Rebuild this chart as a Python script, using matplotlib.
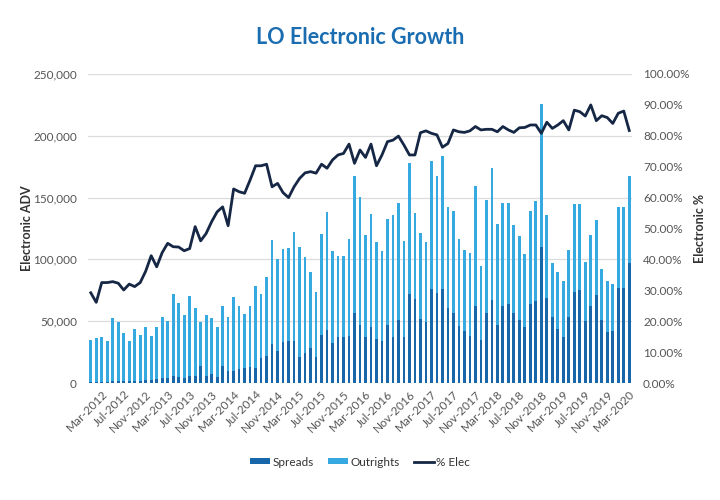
import matplotlib
matplotlib.use("Agg")
import matplotlib.pyplot as plt
from matplotlib.patches import Patch
from matplotlib.lines import Line2D
from matplotlib.ticker import FuncFormatter
import numpy as np
import pandas as pd

# monthly data, Jan-2012 .. Mar-2020 (values in thousands of contracts / percent)
months = pd.date_range("2012-01-01", periods=99, freq="MS").strftime("%b-%Y").tolist()

totals = [
    34.8, 36.7, 37.5, 34, 52.9, 49, 40.7, 34, 44, 38.8, 45, 38.3, 45, 53, 50, 72,
    64.5, 55, 70.4, 60.4, 49.6, 55, 52.3, 45.6, 62.6, 53.2, 69.3, 62.6, 55.8, 62.6, 78.7, 72, 85.5,
    115.7, 100, 108.4, 109.5, 121.9, 110.3, 101.7, 90, 73.9, 120.5, 138, 106.8, 102.7, 102.7, 116.3, 167.5,
    150.7, 119.7, 136.7, 113.8, 107, 133, 136, 146, 115, 177.7, 137.8, 121.6, 113.8, 179.9, 167.5, 183.7, 142.6,
    139, 116.5, 108, 105, 159, 95, 148, 173.7, 129, 146, 146, 128, 119, 104, 139, 147,
    226, 136, 97, 90, 82.5, 108, 145, 145, 98, 120, 132, 92, 82.5, 80, 142, 142, 167.5,
]
spreads = [
    0.8, 1, 1, 1, 1.5, 1.5, 1.5, 2, 2, 2, 2.5, 2.5, 3, 3.7, 3.7, 5.7,
    5, 4, 6, 6, 14, 6, 7, 5, 14, 10, 10, 11, 12, 13, 12, 20, 22,
    31.5, 26, 33.4, 34.2, 34.2, 20.8, 24, 28, 20.8, 38.8, 42.9, 32, 37.5, 37.5, 38, 56.9,
    47, 37.5, 45.6, 36, 34, 47, 37.5, 51, 37.5, 71.7, 68, 52, 49.6, 75.8, 73, 75.8, 60.6,
    56.6, 46, 42, 38, 62, 35, 56.6, 67, 47, 62.6, 63.6, 57, 51, 45.6, 63.6, 66,
    110, 69, 53, 44, 37, 53, 74, 75, 50, 62, 71, 51, 41.5, 42, 77, 77, 97,
]
pct_elec = [
    29.2, 26.1, 32.5, 32.5, 32.8, 32.3, 30.1, 32.0, 31.2, 32.5, 36.2, 41.2, 37.6, 42.2, 45.2, 44.1,
    44.0, 42.8, 43.5, 50.6, 46.0, 48.4, 52.2, 55.4, 57.0, 50.9, 62.8, 61.9, 61.4, 65.7, 70.3, 70.3, 70.8,
    63.5, 64.6, 61.6, 60.0, 63.5, 66.2, 68.0, 68.4, 67.9, 70.8, 69.5, 72.2, 73.8, 74.3, 77.3, 71.1,
    75.4, 73.0, 77.3, 70.3, 73.8, 78.1, 78.6, 79.9, 77.0, 73.8, 73.8, 81.0, 81.6, 80.8, 80.3, 76.3, 77.5,
    81.9, 81.3, 81.1, 81.6, 83.0, 81.9, 82.1, 82.1, 81.3, 83.0, 81.9, 81.1, 82.6, 82.7, 83.5, 83.5,
    80.8, 84.4, 82.4, 83.5, 84.9, 81.9, 88.3, 87.8, 86.4, 90.0, 84.9, 86.5, 85.9, 84.0, 87.3, 88.0, 81.7,
]

SPREAD_C = "#1767aa"
OUTRIGHT_C = "#36a9e1"
LINE_C = "#152744"
TEXT_C = "#555555"

plt.rcParams["font.family"] = ["Lato", "DejaVu Sans"]

spreads_adv = np.array(spreads) * 1000
outrights_adv = (np.array(totals) - np.array(spreads)) * 1000
x = np.arange(len(months))

fig = plt.figure(figsize=(7.2, 5), dpi=100)
ax = fig.add_axes([88 / 720, 1 - 383 / 500, 544 / 720, 309 / 500])
ax2 = ax.twinx()

ax.bar(x, spreads_adv, width=0.5, color=SPREAD_C, zorder=2)
ax.bar(x, outrights_adv, width=0.5, bottom=spreads_adv, color=OUTRIGHT_C, zorder=2)
ax2.plot(x, pct_elec, color=LINE_C, linewidth=2.0, zorder=3)

ax.set_xlim(-0.5, len(months) - 0.5)
ax.set_ylim(0, 250000)
ax.set_yticks(np.arange(0, 250001, 50000))
ax.yaxis.set_major_formatter(FuncFormatter(lambda v, p: f"{v:,.0f}"))
ax2.set_ylim(0, 100)
ax2.set_yticks(np.arange(0, 101, 10))
ax2.yaxis.set_major_formatter(FuncFormatter(lambda v, p: f"{v:.2f}%"))

ax.grid(axis="y", color="#dcdcdc", linewidth=0.9, zorder=0)
ax.set_axisbelow(True)
for a in (ax, ax2):
    for s in a.spines.values():
        s.set_visible(False)
    a.tick_params(length=0, labelsize=8.5, colors=TEXT_C)

tick_idx = list(range(2, len(months), 4))
ax.set_xticks(tick_idx)
ax.set_xticklabels([months[i] for i in tick_idx], rotation=45, ha="right",
                   rotation_mode="anchor", fontsize=8.5, color=TEXT_C)
ax.tick_params(axis="x", pad=4)
ax.tick_params(axis="y", pad=8)
ax2.tick_params(axis="y", pad=8)

ax.set_ylabel("Electronic ADV", fontsize=9, color="#333333", fontweight="bold", labelpad=0)
ax2.set_ylabel("Electronic %", fontsize=9, color="#333333", fontweight="bold", labelpad=3)

fig.text(0.5, 1 - 37 / 500, "LO Electronic Growth", ha="center", va="center",
         fontsize=15.5, fontweight="bold", color="#1a6db0")

handles = [
    Patch(facecolor=SPREAD_C, label="Spreads"),
    Patch(facecolor=OUTRIGHT_C, label="Outrights"),
    Line2D([0], [0], color=LINE_C, linewidth=2, label="% Elec"),
]
fig.legend(handles=handles, loc="center", bbox_to_anchor=(0.5, 1 - 462 / 500), ncol=3,
           frameon=False, fontsize=8.5, handlelength=1.7, handleheight=0.4,
           handletextpad=0.2, columnspacing=1.2, labelcolor="#333333")

fig.savefig("out.png", dpi=100)
